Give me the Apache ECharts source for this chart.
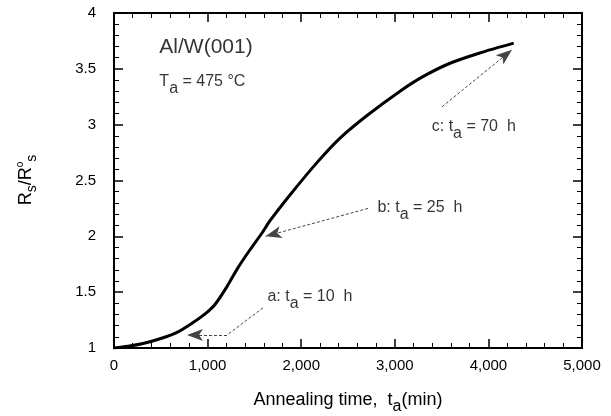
<!DOCTYPE html>
<html><head><meta charset="utf-8">
<script src="https://cdn.jsdelivr.net/npm/echarts@6/dist/echarts.min.js"></script>
<style>html,body{margin:0;padding:0;background:#fff}#c{width:611px;height:416px}#err{position:absolute;left:0;top:0;font:10px monospace;color:red;max-width:600px}</style>
</head><body><div id="c"></div><div id="err"></div>
<script>
function showErr(e){document.getElementById('err').textContent += ' ' + (e && (e.stack||e.message) || e);}
window.onerror = function(m,s,l,c,e){showErr(e||m);};
const curveTime = [0,150,310,500,673,865,980,1079,1207,1325,1453,1581,1667,1880,2168,2415,2700,3056,3300,3590,3900,4270];
const curveRatio = [1.0,1.015,1.04,1.085,1.14,1.24,1.31,1.39,1.55,1.72,1.88,2.03,2.14,2.37,2.66,2.88,3.08,3.30,3.43,3.55,3.64,3.73];
const xTicks = [0,1000,2000,3000,4000,5000];
const yTicks = [1,1.5,2,2.5,3,3.5,4];
// annotation arrows: [from, (via), to] in data coordinates
const arrowA = [[1592,1.36],[1207,1.116],[780,1.116]];
const arrowB = [[2714,2.25],[1620,2.0]];
const arrowC = [[3504,3.16],[4252,3.67]];
// annotation texts anchored at data coordinates (left edge, vertical middle)
const annPos = [[490,3.69],[490,3.38],[1645,1.46],[2820,2.25],[3400,2.98]];
const annText = ['{big|Al/W(001)}','{n|T}{s|a}{n| = 475 °C}','{n|a: t}{s|a}{n| = 10  h}','{n|b: t}{s|a}{n| = 25  h}','{n|c: t}{s|a}{n| = 70  h}'];

const chart = echarts.init(document.getElementById('c'));
const FONT = 'Liberation Sans';
function axisCommon(){ return {
  axisLine:{show:true,onZero:false,lineStyle:{color:'#000',width:2}},
  axisTick:{show:true,inside:true,length:9,lineStyle:{color:'#000',width:1.5}},
  minorTick:{show:true,splitNumber:5,length:5,lineStyle:{color:'#000',width:1}},
  splitLine:{show:false}
};}
const xRange = {min:xTicks[0],max:xTicks[xTicks.length-1],interval:xTicks[1]-xTicks[0]};
const yRange = {min:yTicks[0],max:yTicks[yTicks.length-1],interval:yTicks[1]-yTicks[0]};
const data = curveTime.map((t,i)=>[t,curveRatio[i]]);
function seg(a,b,arrow){
  return [{coord:a,symbol:'none'},{coord:b,symbol:arrow?'arrow':'none'}];
}
const mlStyle = {color:'#444',type:[3,2],width:1};
const richAnn = {
  big:{fontSize:21,fontFamily:FONT,color:'#000'},
  n:{fontSize:16,fontFamily:FONT,color:'#000'},
  s:{fontSize:16,fontFamily:FONT,color:'#000',padding:[0,0,-14,0]}
};
try {
chart.setOption({
  animation:false,
  grid:{left:114,right:29,top:13,bottom:68,show:true,borderColor:'#000',borderWidth:2,backgroundColor:'transparent'},
  xAxis:[
    Object.assign({type:'value',
      axisLabel:{fontSize:15,fontFamily:FONT,color:'#000',margin:10}},xRange,axisCommon()),
    Object.assign({type:'value',position:'top',axisLabel:{show:false}},xRange,axisCommon())
  ],
  yAxis:[
    Object.assign({type:'value',
      axisLabel:{fontSize:15,fontFamily:FONT,color:'#000',margin:18}},yRange,axisCommon()),
    Object.assign({type:'value',position:'right',axisLabel:{show:false}},yRange,axisCommon())
  ],
  graphic:[
    {type:'text',x:348,y:400,style:{text:'{n|Annealing time,  t}{s|a}{n|(min)}',align:'center',verticalAlign:'middle',
      rich:{n:{fontSize:18,fontFamily:FONT,fill:'#000'},s:{fontSize:16,fontFamily:FONT,fill:'#000',padding:[0,0,-14,0]}}}},
    {type:'text',x:26,y:180,rotation:Math.PI/2,style:{text:'{n|R}{s|s}{n|/R}{o|o}{s|s}',align:'center',verticalAlign:'middle',
      rich:{n:{fontSize:18,fontFamily:FONT,fill:'#000'},s:{fontSize:14,fontFamily:FONT,fill:'#000',padding:[0,0,-12,0]},o:{fontSize:10,fontFamily:FONT,fill:'#000',padding:[0,0,12,0]}}}}
  ],
  series:[
    {type:'line',data:data,smooth:0.3,symbol:'none',lineStyle:{color:'#000',width:3},z:5,
     markLine:{silent:true,symbolSize:[9,16],lineStyle:mlStyle,label:{show:false},
       data:[seg(arrowA[0],arrowA[1],false),seg(arrowA[1],arrowA[2],true),seg(arrowB[0],arrowB[1],true),seg(arrowC[0],arrowC[1],true)]}
    },
    {type:'scatter',silent:true,symbolSize:1,itemStyle:{color:'rgba(0,0,0,0)'},z:6,
     data:annPos.map((p,i)=>({value:p,label:{formatter:annText[i]}})),
     label:{show:true,position:[0,0],align:'left',verticalAlign:'middle',rich:richAnn}}
  ]
});
} catch(e) { showErr(e); }
</script></body></html>
